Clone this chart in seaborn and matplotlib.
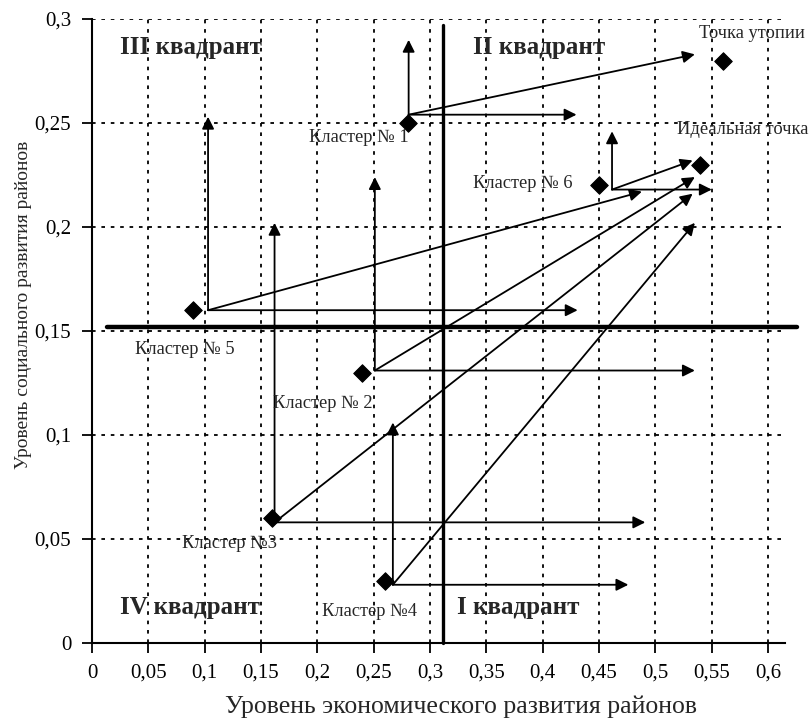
import matplotlib
matplotlib.use("Agg")
import matplotlib.pyplot as plt
import seaborn as sns
import pandas as pd

# ---- данные: точки (кластеры, идеальная точка, точка утопии)
point_names = ["Кластер № 1", "Кластер № 2", "Кластер №3", "Кластер №4",
               "Кластер № 5", "Кластер № 6", "Идеальная точка", "Точка утопии"]
point_x = [0.28, 0.24, 0.16, 0.26, 0.09, 0.45, 0.54, 0.56]
point_y = [0.25, 0.13, 0.06, 0.03, 0.16, 0.22, 0.23, 0.28]

# ---- стрелки от кластеров: начало, вертикаль, горизонталь, диагональ
arrow_x0 = [0.281, 0.251, 0.162, 0.267, 0.103, 0.4615]
arrow_y0 = [0.254, 0.131, 0.058, 0.028, 0.160, 0.218]
arrow_up_y = [0.290, 0.224, 0.202, 0.106, 0.253, 0.246]
arrow_right_x = [0.430, 0.535, 0.491, 0.476, 0.431, 0.550]
arrow_diag_x = [0.535, 0.535, 0.533, 0.535, 0.488, 0.533]
arrow_diag_y = [0.283, 0.224, 0.216, 0.202, 0.217, 0.232]

# ---- границы квадрантов
split_x = 0.3115
split_y = 0.152

quadrant_names = ["III квадрант", "II квадрант", "IV квадрант", "I квадрант"]
quadrant_x = [0.025, 0.338, 0.025, 0.324]
quadrant_y = [0.2865, 0.2865, 0.0173, 0.0173]

# позиции подписей точек (левый край, центр по вертикали)
label_x = [0.193, 0.161, 0.080, 0.204, 0.038, 0.338, 0.519, 0.539]
label_y = [0.243, 0.115, 0.0476, 0.015, 0.141, 0.221, 0.247, 0.293]

x_ticks = [0, 0.05, 0.1, 0.15, 0.2, 0.25, 0.3, 0.35, 0.4, 0.45, 0.5, 0.55, 0.6]
y_ticks = [0, 0.05, 0.1, 0.15, 0.2, 0.25, 0.3]

sns.set_style("white")
plt.rcParams['font.family'] = ['Liberation Serif', 'DejaVu Serif']

fig = plt.figure(figsize=(8.12, 7.2), dpi=100)
ax = fig.add_axes([92 / 812, 77 / 720, 693 / 812, 624 / 720])

df = pd.DataFrame({'x': point_x, 'y': point_y, 'name': point_names})

# сетка
grid_kw = dict(color='black', lw=1.3, linestyle=(0, (2, 3.2)), zorder=1)
for v in x_ticks[1:]:
    ax.axvline(v, **grid_kw)
for v in y_ticks[1:]:
    ax.axhline(v, **grid_kw)

# разделители квадрантов
ax.plot([split_x, split_x], [0, 0.297], color='black', lw=2.4, zorder=3, clip_on=False)
ax.plot([0.013, 0.626], [split_y, split_y], color='black', lw=3.2, zorder=3, clip_on=False)

# стрелки
arrow_kw = dict(arrowstyle='-|>', color='black', lw=1.3, mutation_scale=18,
                shrinkA=0, shrinkB=0)
for i in range(len(arrow_x0)):
    start = (arrow_x0[i], arrow_y0[i])
    ax.annotate('', xy=(arrow_x0[i], arrow_up_y[i]), xytext=start,
                arrowprops=arrow_kw, zorder=4)
    ax.annotate('', xy=(arrow_right_x[i], arrow_y0[i]), xytext=start,
                arrowprops=arrow_kw, zorder=4)
    ax.annotate('', xy=(arrow_diag_x[i], arrow_diag_y[i]), xytext=start,
                arrowprops=arrow_kw, zorder=4)

sns.scatterplot(data=df, x='x', y='y', marker='D', s=80, color='black',
                edgecolor='black', ax=ax, zorder=5, legend=False)

for name, lx, ly in zip(point_names, label_x, label_y):
    ax.text(lx, ly, name, fontsize=13.3, ha='left', va='center', zorder=6)

for name, qx, qy in zip(quadrant_names, quadrant_x, quadrant_y):
    ax.text(qx, qy, name, fontsize=18, fontweight='bold', ha='left', va='center', zorder=6)

ax.set_xlim(0, 0.615)
ax.set_ylim(0, 0.3)
ax.set_xticks(x_ticks)
ax.set_yticks(y_ticks)
ax.set_xticklabels([f"{v:g}".replace('.', ',') for v in x_ticks])
ax.set_yticklabels([f"{v:g}".replace('.', ',') for v in y_ticks])
ax.tick_params(axis='both', direction='out', length=7, width=1.3, colors='black',
               labelsize=15, pad=8)
ax.tick_params(axis='both', which='both', bottom=True, left=True)

for side in ['top', 'right']:
    ax.spines[side].set_visible(False)
for side in ['left', 'bottom']:
    ax.spines[side].set_color('black')
    ax.spines[side].set_linewidth(1.5)

ax.set_xlabel('Уровень экономического развития районов', fontsize=18.5)
ax.set_ylabel('Уровень социального развития районов', fontsize=14)
ax.xaxis.set_label_coords(0.532, -0.084)
ax.yaxis.set_label_coords(-0.086, 0.542)

fig.savefig('out.png', dpi=100)
